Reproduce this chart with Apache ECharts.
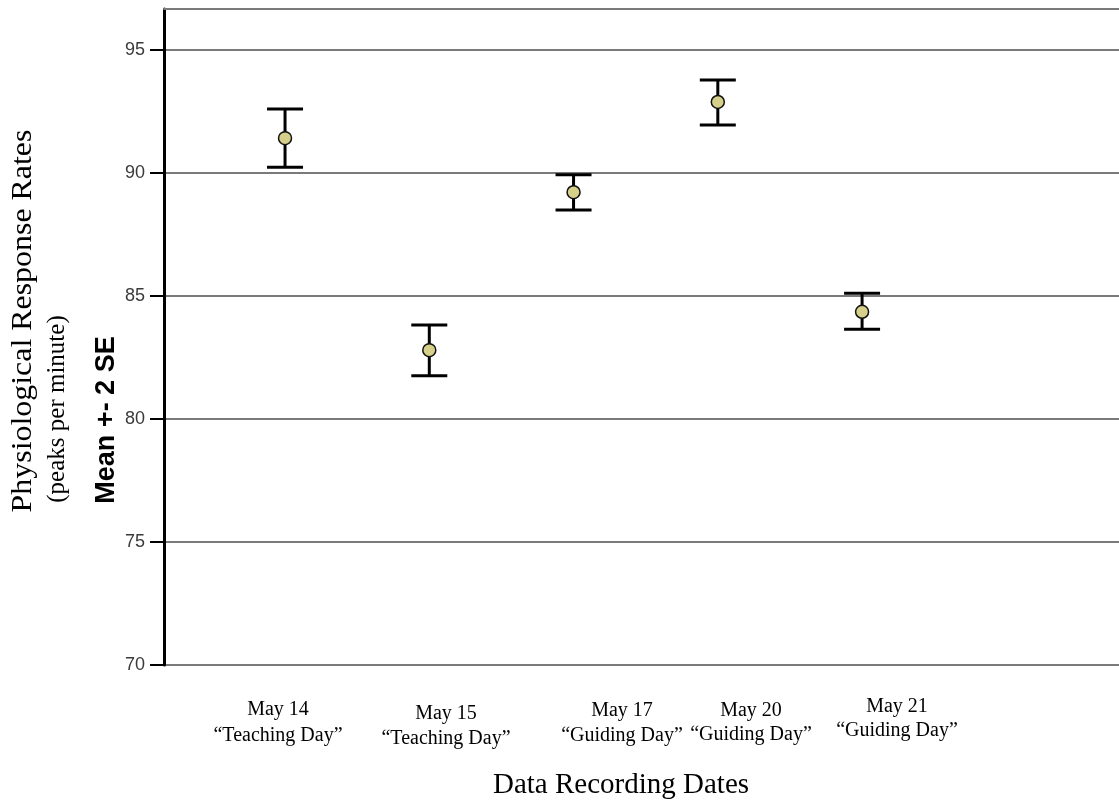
<!DOCTYPE html>
<html>
<head>
<meta charset="utf-8">
<script src="https://cdn.jsdelivr.net/npm/echarts@6/dist/echarts.min.js"></script>
<style>html,body{margin:0;padding:0;background:#fff;}#c{width:1119px;height:804px;}</style>
</head>
<body>
<div id="c"></div>
<script>
// ---- data ----
var categories = ['May 14', 'May 15', 'May 17', 'May 20', 'May 21'];
var dayTypes = ['\u201CTeaching Day\u201D', '\u201CTeaching Day\u201D', '\u201CGuiding Day\u201D', '\u201CGuiding Day\u201D', '\u201CGuiding Day\u201D'];
var means = [91.42, 82.80, 89.22, 92.89, 84.36];
var upper = [92.60, 83.82, 89.93, 93.78, 85.11];
var lower = [90.24, 81.76, 88.50, 91.95, 83.65];
var yTicks = [70, 75, 80, 85, 90, 95];
var yTitle = 'Physiological Response Rates';
var ySubtitle = '(peaks per minute)';
var yAxisName = 'Mean +- 2 SE';
var xTitle = 'Data Recording Dates';

// ---- layout (positions of the annotation labels) ----
var labelX = [278, 446, 622, 751, 897];
var labelY1 = [710, 714, 711, 711, 707];
var labelY2 = [736, 739, 736, 735, 731];

var chart = echarts.init(document.getElementById('c'), null, {renderer: 'canvas'});

var pos = categories.map(function (c, i) { return i + 1; });
var errData = pos.map(function (p, i) { return [p, lower[i], upper[i]]; });
var meanData = pos.map(function (p, i) { return [p, means[i]]; });

var serif = '"Liberation Serif", "Times New Roman", serif';
var sans = '"Liberation Sans", Arial, sans-serif';
var graphics = [];
categories.forEach(function (c, i) {
  graphics.push({type: 'text', x: labelX[i], y: labelY1[i], style: {text: c, font: '20px ' + serif, fill: '#000', align: 'center', verticalAlign: 'middle'}});
  graphics.push({type: 'text', x: labelX[i], y: labelY2[i], style: {text: dayTypes[i], font: '20px ' + serif, fill: '#000', align: 'center', verticalAlign: 'middle'}});
});
graphics.push({type: 'text', x: 621, y: 785, style: {text: xTitle, font: '29px ' + serif, fill: '#000', align: 'center', verticalAlign: 'middle'}});
graphics.push({type: 'text', x: 23, y: 321, rotation: Math.PI / 2, scaleX: 1.1, style: {text: yTitle, font: '29px ' + serif, fill: '#000', align: 'center', verticalAlign: 'middle'}});
graphics.push({type: 'text', x: 57, y: 409, rotation: Math.PI / 2, style: {text: ySubtitle, font: '25px ' + serif, fill: '#000', align: 'center', verticalAlign: 'middle'}});
graphics.push({type: 'text', x: 107, y: 420, rotation: Math.PI / 2, style: {text: yAxisName, font: 'bold 27px ' + sans, fill: '#000', align: 'center', verticalAlign: 'middle'}});

var option = {
  backgroundColor: '#fff',
  animation: false,
  grid: {left: 164, top: 9, right: 0, bottom: 139},
  xAxis: {
    type: 'value', min: 0.161, max: 6.781, position: 'top',
    axisLine: {show: true, onZero: false, lineStyle: {color: '#7a7a7a', width: 2}},
    axisTick: {show: false}, axisLabel: {show: false}, splitLine: {show: false}
  },
  yAxis: {
    type: 'value', min: 70, max: 96.67, interval: 5,
    axisLine: {show: true, lineStyle: {color: '#000', width: 3}},
    axisTick: {show: true, length: 14, lineStyle: {color: '#000', width: 2}, customValues: yTicks},
    axisLabel: {color: '#3a3a3a', fontSize: 18, fontFamily: sans, margin: 19, customValues: yTicks},
    splitLine: {show: true, lineStyle: {color: '#7a7a7a', width: 2}}
  },
  graphic: graphics,
  series: [
    {
      type: 'custom',
      data: errData,
      encode: {x: 0, y: [1, 2]},
      renderItem: function (params, api) {
        var x = api.value(0);
        var lo = api.coord([x, api.value(1)]);
        var hi = api.coord([x, api.value(2)]);
        var hw = 18;
        var st = {stroke: '#000', lineWidth: 3};
        return {type: 'group', children: [
          {type: 'line', shape: {x1: lo[0], y1: lo[1], x2: hi[0], y2: hi[1]}, style: st},
          {type: 'line', shape: {x1: lo[0] - hw, y1: lo[1], x2: lo[0] + hw, y2: lo[1]}, style: st},
          {type: 'line', shape: {x1: hi[0] - hw, y1: hi[1], x2: hi[0] + hw, y2: hi[1]}, style: st}
        ]};
      },
      z: 3
    },
    {
      type: 'scatter',
      data: meanData,
      symbol: 'circle',
      symbolSize: 13,
      itemStyle: {color: '#d6d08a', borderColor: '#111', borderWidth: 1.5, opacity: 1},
      z: 4
    }
  ]
};
chart.setOption(option);
</script>
</body>
</html>
